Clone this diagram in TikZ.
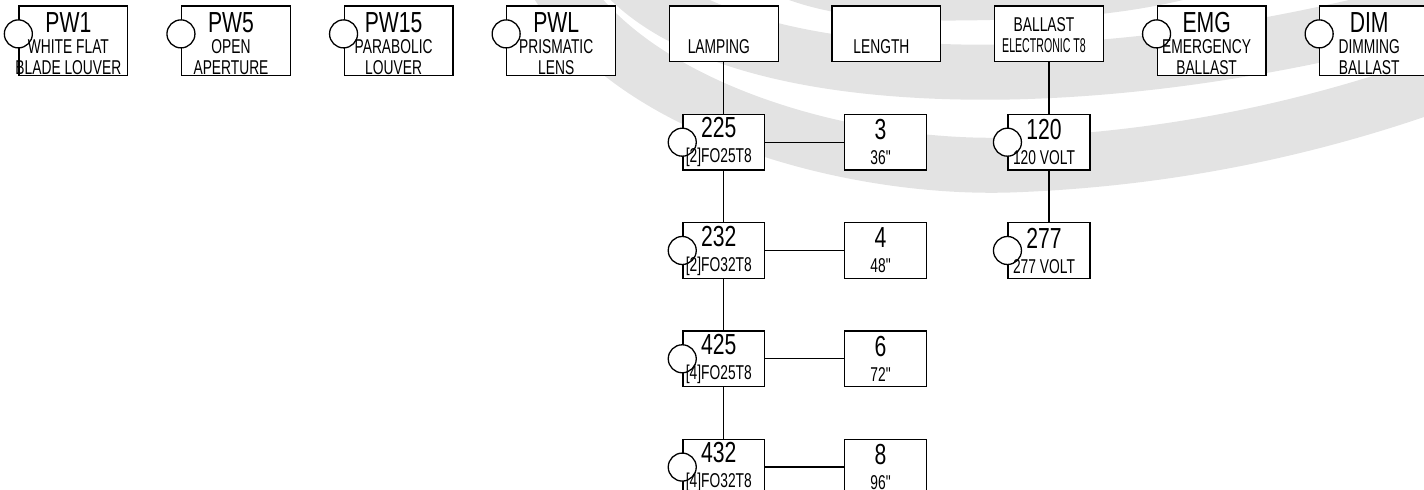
\documentclass[tikz,border=0pt]{standalone}
\usepackage{fontspec}
\setmainfont{Liberation Sans}[FakeStretch=0.69,Ligatures=TeXOff]
\newfontfamily\capfont{Liberation Sans}[FakeStretch=0.73]
\newfontfamily\narrowtype{Liberation Sans}[FakeStretch=0.53]
\usepackage{tikz}
\usetikzlibrary{positioning,fit,backgrounds,calc}
\pgfdeclarelayer{marks}
\pgfsetlayers{marks,background,main}
\definecolor{wmark}{HTML}{E3E3E3}
\newcommand\capsz{\capfont\fontsize{14.5}{15}\selectfont}
\newcommand\lift[1]{\rule{0pt}{#1}}

\begin{document}
\begin{tikzpicture}[
  x=0.5pt,y=-0.5pt,
  font=\fontsize{10}{10.5}\selectfont,
  tag/.style={inner sep=0pt,align=center,minimum width=54pt,minimum height=34.5pt},
  head/.style={tag,minimum height=27.5pt},
  opt/.style={tag,minimum width=40.5pt,minimum height=27.5pt},
  frame/.style={draw,fill=white,inner sep=0pt,line width=0.65pt,xshift=2.5pt},
  knob/.style={circle,draw,fill=white,inner sep=0pt,minimum size=14pt,line width=0.65pt},
  wire/.style={line width=0.65pt},
  band/.style={draw=wmark,line width=27.5pt},
]
\useasboundingbox (0,0) rectangle (1424,490);

% options row (texts sit a little left of their frames)
\node[tag,anchor=north west] (pw1) at (14,6) {{\capsz\lift{12.5pt}PW1}\\WHITE FLAT\\BLADE LOUVER};
\node[tag,right=26.9pt of pw1] (pw5) {{\capsz\lift{12.5pt}PW5}\\OPEN\\APERTURE};
\node[tag,right=26.9pt of pw5] (pw15) {{\capsz\lift{12.5pt}PW15}\\PARABOLIC\\LOUVER};
\node[tag,right=26.9pt of pw15] (pwl) {{\capsz\lift{12.5pt}PWL}\\PRISMATIC\\LENS};
\node[head,right=26.9pt of pwl.north east,anchor=north west] (lamp) {\lift{9pt}\\LAMPING};
\node[head,right=26.9pt of lamp] (len) {\lift{9pt}\\LENGTH};
\node[head,right=26.9pt of len] (blst) {\lift{8pt}BALLAST\\{\narrowtype ELECTRONIC T8}};
\node[tag,right=26.9pt of blst.north east,anchor=north west] (emg) {{\capsz\lift{12.5pt}EMG}\\EMERGENCY\\BALLAST};
\node[tag,right=26.9pt of emg] (dim) {{\capsz\lift{12.5pt}DIM}\\DIMMING\\BALLAST};

% lamping column
\node[opt,below=26.25pt of lamp] (l225) {{\capsz 225}\\[2pt]{[2]FO25T8}};
\node[opt,below=26.25pt of l225] (l232) {{\capsz 232}\\[2pt]{[2]FO32T8}};
\node[opt,below=26.25pt of l232] (l425) {{\capsz 425}\\[2pt]{[4]FO25T8}};
\node[opt,below=26.25pt of l425] (l432) {{\capsz 432}\\[2pt]{[4]FO32T8}};

% length column
\node[opt,right=40pt of l225] (n3) {{\capsz 3}\\[2pt]36"};
\node[opt,right=40pt of l232] (n4) {{\capsz 4}\\[2pt]48"};
\node[opt,right=40pt of l425] (n6) {{\capsz 6}\\[2pt]72"};
\node[opt,right=40pt of l432] (n8) {{\capsz 8}\\[2pt]96"};

% ballast column
\node[opt,below=26.25pt of blst] (v120) {{\capsz 120}\\[2pt]120 VOLT};
\node[opt,below=26.25pt of v120] (v277) {{\capsz 277}\\[2pt]277 VOLT};

\begin{scope}[on background layer]
  \foreach \b in {pw1,pw5,pw15,pwl,lamp,len,blst,emg,dim,l225,l232,l425,l432,n3,n4,n6,n8,v120,v277}
    \node[frame,fit=(\b)] (f\b) {};
  \foreach \b in {pw1,pw5,pw15,pwl,emg,dim}
    \node[knob] (k\b) at ($(f\b.west)+(0,-7)$) {};
  \foreach \b in {l225,l232,l425,l432,v120,v277}
    \node[knob] (k\b) at (f\b.west) {};
\end{scope}

% links between frames
\draw[wire] (flamp) -- (fl225);
\draw[wire] (fl225) -- (fl232);
\draw[wire] (fl232) -- (fl425);
\draw[wire] (fl425) -- (fl432);
\draw[wire] (fl225) -- (fn3);
\draw[wire] (fl232) -- (fn4);
\draw[wire] (fl425) -- (fn6);
\draw[wire] (fl432) -- (fn8);
\draw[wire] (fblst) -- (fv120);
\draw[wire] (fv120) -- (fv277);

% watermark arcs
\begin{pgfonlayer}{marks}
  \draw[band] (555,-20) .. controls (630,110) and (850,170) .. (1010,165)
              .. controls (1150,160) and (1300,135) .. (1460,75);
  \draw[band] (620,-30) .. controls (690,50) and (850,75) .. (1010,72)
              .. controls (1150,69) and (1300,45) .. (1460,0);
  \draw[band] (740,-60) .. controls (800,-5) and (900,-5) .. (1010,-8)
              .. controls (1150,-10) and (1250,-40) .. (1300,-80);
\end{pgfonlayer}
\end{tikzpicture}
\end{document}
